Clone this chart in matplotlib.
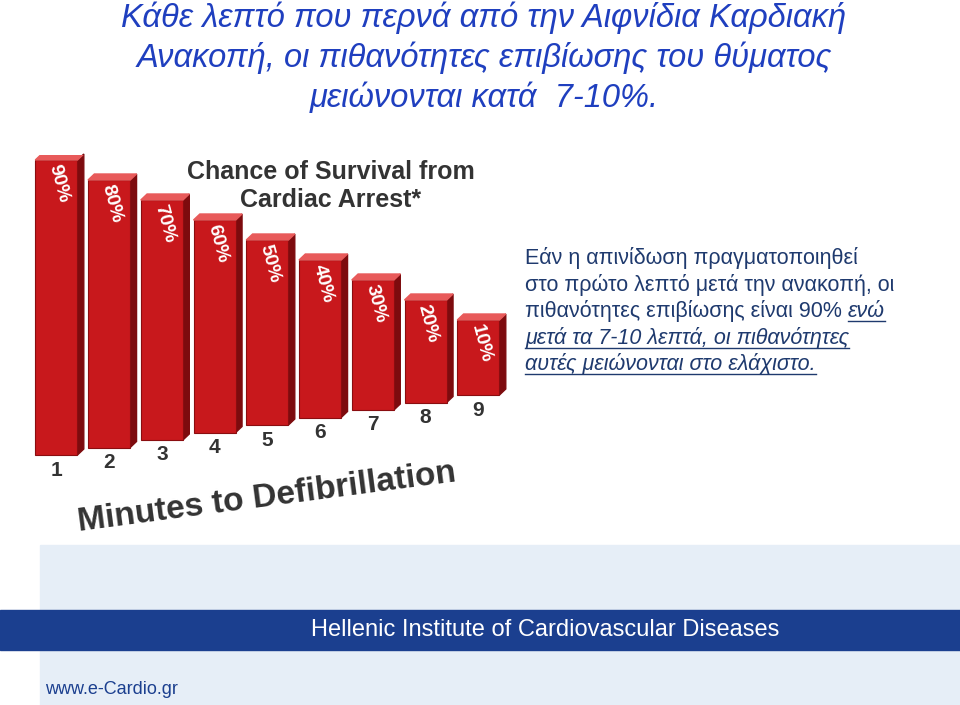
import matplotlib
matplotlib.use("Agg")
import matplotlib.pyplot as plt
from matplotlib.patches import Rectangle, Polygon

minutes = [1, 2, 3, 4, 5, 6, 7, 8, 9]
survival = [90, 80, 70, 60, 50, 40, 30, 20, 10]
labels = [f"{v}%" for v in survival]

W, H = 960, 705
fig = plt.figure(figsize=(9.6, 7.05), dpi=100)
fig.patch.set_facecolor("white")
font = ["Liberation Sans", "DejaVu Sans"]
blue = "#1f3fbf"

for i, line in enumerate(["Κάθε λεπτό που περνά από την Αιφνίδια Καρδιακή",
                          "Ανακοπή, οι πιθανότητες επιβίωσης του θύματος",
                          "μειώνονται κατά  7-10%."]):
    fig.text(484 / W, 1 - (18 + i * 40) / H, line, ha="center", va="center",
             fontsize=23.5, style="italic", color=blue, family=font)

def ax_px(x0, y0, x1, y1):
    return fig.add_axes([x0 / W, 1 - y1 / H, (x1 - x0) / W, (y1 - y0) / H])

ax = ax_px(30, 155, 510, 450)
ax.set_xlim(0.5, 9.6)
ax.set_ylim(-55, 92.5)
ax.axis("off")
ax.set_clip_on(False)
bw = 0.8
# tilted floor (perspective), in axis units
bases = [-57.5 + 3.75 * (m - 1) for m in minutes]
ax.bar(minutes, [v - b for v, b in zip(survival, bases)], bottom=bases, width=bw,
       color="#c8181c", edgecolor="#8a0d10", linewidth=0.8, zorder=2, clip_on=False)
for m, v, lab, b in zip(minutes, survival, labels, bases):
    ax.add_patch(Polygon([(m + bw / 2, b), (m + bw / 2 + 0.12, b + 3),
                          (m + bw / 2 + 0.12, v + 3), (m + bw / 2, v)],
                         closed=True, color="#7d0b0e", zorder=1, clip_on=False))
    ax.add_patch(Polygon([(m - bw / 2, v), (m + bw / 2, v),
                          (m + bw / 2 + 0.12, v + 3), (m - bw / 2 + 0.12, v + 3)],
                         closed=True, color="#e85a5a", zorder=3))
    ax.text(m + 0.05, v - 12, lab, rotation=-75, ha="center", va="center",
            fontsize=14, fontweight="bold", color="white", family=font, zorder=4)

ax.text(6.2, 84, "Chance of Survival from", fontsize=18, fontweight="bold",
        color="#333333", ha="center", va="center", family=font)
ax.text(6.2, 70, "Cardiac Arrest*", fontsize=18, fontweight="bold",
        color="#333333", ha="center", va="center", family=font)

ax2 = ax_px(30, 400, 510, 540)
ax2.set_xlim(0.5, 9.6)
ax2.set_ylim(0, 140)
ax2.axis("off")
for m in minutes:
    ax2.text(m, 70 + (m - 1) * 7.5, str(m), ha="center", va="center",
             fontsize=15, fontweight="bold", color="#333333", family=font)
ax2.text(5.0, 42, "Minutes to Defibrillation", ha="center", va="center",
         fontsize=24, fontweight="bold", color="#333333", rotation=7.5, family=font)

tcol = "#1f3a6e"
tx = [("Εάν η απινίδωση πραγματοποιηθεί", False),
      ("στο πρώτο λεπτό μετά την ανακοπή, οι", False),
      ("πιθανότητες επιβίωσης είναι 90% ", False),
      ("μετά τα 7-10 λεπτά, οι πιθανότητες", True),
      ("αυτές μειώνονται στο ελάχιστο.", True)]
fig.canvas.draw()
r = fig.canvas.get_renderer()
objs = []
for i, (t, it) in enumerate(tx):
    o = fig.text(525 / W, 1 - (258 + i * 26.5) / H, t, ha="left", va="center",
                 fontsize=15.5, color=tcol, style="italic" if it else "normal",
                 family=font)
    objs.append((o, it))
bb = objs[2][0].get_window_extent(r)
enw = fig.text(bb.x1 / W, 1 - (258 + 2 * 26.5) / H, "ενώ", ha="left", va="center",
               fontsize=15.5, color=tcol, style="italic", family=font)
def underline(o):
    b = o.get_window_extent(r)
    fig.add_artist(plt.Line2D([b.x0 / W, b.x1 / W], [(b.y0 + 1) / H] * 2,
                              color=tcol, lw=1, transform=fig.transFigure))
underline(enw)
for o, it in objs:
    if it:
        underline(o)

bg = fig.add_axes([0, 0, 1, 1], zorder=-5)
bg.set_xlim(0, W); bg.set_ylim(H, 0); bg.axis("off")
bg.add_patch(Rectangle((40, 545), 920, 160, color="#e6eef7"))
bg.add_patch(Rectangle((0, 610), 960, 40, color="#1b3f8f"))
fig.text(545 / W, 1 - 630 / H, "Hellenic Institute of Cardiovascular Diseases",
         ha="center", va="center", fontsize=17, color="white", family=font)
fig.text(45 / W, 1 - 690 / H, "www.e-Cardio.gr", ha="left", va="center",
         fontsize=13, color="#1b3f8f", family=font)

fig.savefig("out.png", dpi=100)
